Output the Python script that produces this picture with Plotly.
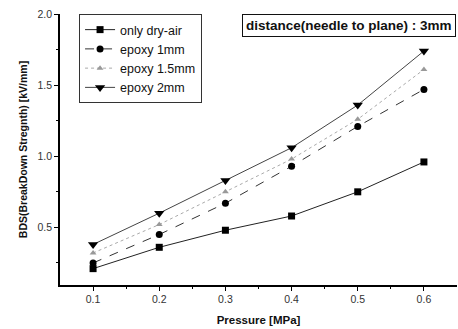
import plotly.graph_objects as go

pressure = [0.1, 0.2, 0.3, 0.4, 0.5, 0.6]
dry_air = [0.21, 0.36, 0.48, 0.58, 0.75, 0.96]
epoxy_1mm = [0.25, 0.45, 0.67, 0.93, 1.21, 1.47]
epoxy_15mm = [0.32, 0.52, 0.75, 0.98, 1.26, 1.61]
epoxy_2mm = [0.38, 0.60, 0.83, 1.06, 1.36, 1.74]

x_ticks = [0.1, 0.2, 0.3, 0.4, 0.5, 0.6]
x_tick_labels = ["0.1", "0.2", "0.3", "0.4", "0.5", "0.6"]
y_ticks = [0.5, 1.0, 1.5, 2.0]
y_tick_labels = ["0.5", "1.0", "1.5", "2.0"]

fig = go.Figure()
fig.add_trace(go.Scatter(x=pressure, y=dry_air, name="only dry-air", mode="lines+markers",
                         line=dict(color="#222", width=1, dash="solid"),
                         marker=dict(symbol="square", size=7, color="black")))
fig.add_trace(go.Scatter(x=pressure, y=epoxy_1mm, name="epoxy 1mm", mode="lines+markers",
                         line=dict(color="#333", width=1, dash="dash"),
                         marker=dict(symbol="circle", size=7, color="black")))
fig.add_trace(go.Scatter(x=pressure, y=epoxy_15mm, name="epoxy 1.5mm", mode="lines+markers",
                         line=dict(color="#aaa", width=1, dash="dot"),
                         marker=dict(symbol="triangle-up", size=6, color="#999")))
fig.add_trace(go.Scatter(x=pressure, y=epoxy_2mm, name="epoxy 2mm", mode="lines+markers",
                         line=dict(color="#444", width=1, dash="solid"),
                         marker=dict(symbol="triangle-down", size=9, color="black")))

fig.update_layout(
    width=458, height=329,
    margin=dict(l=60, r=1, t=14, b=44),
    paper_bgcolor="white", plot_bgcolor="white",
    font=dict(family="Liberation Sans, Arial, sans-serif", color="#222"),
    showlegend=True,
    legend=dict(x=0.048, y=1.0, xanchor="left", yanchor="top",
                bordercolor="#333", borderwidth=1, bgcolor="white",
                font=dict(size=12.5, color="#111"), tracegroupgap=0,
                itemwidth=30),
    xaxis=dict(range=[0.05, 0.65], tickvals=x_ticks, ticktext=x_tick_labels,
               showline=True, linecolor="black", linewidth=1.5, ticks="outside",
               ticklen=4, tickcolor="black", showgrid=False, zeroline=False, automargin=False,
               minor=dict(tickvals=[0.15, 0.25, 0.35, 0.45, 0.55], ticks="outside", ticklen=2, tickcolor="black"),
               tickfont=dict(size=10.5, color="#333"),
               title=dict(text="<b>Pressure [MPa]</b>", font=dict(size=11.5, color="#111"), standoff=12)),
    yaxis=dict(range=[0.095, 2.0], tickvals=y_ticks, ticktext=y_tick_labels,
               showline=True, linecolor="black", linewidth=1.5, ticks="outside",
               ticklen=4, tickcolor="black", showgrid=False, zeroline=False, automargin=False,
               minor=dict(tickvals=[0.25, 0.75, 1.25, 1.75], ticks="outside", ticklen=2, tickcolor="black"),
               tickfont=dict(size=10.5, color="#333"),
               title=dict(text="<b>BDS(BreakDown Stregnth) [kV/mm]</b>", font=dict(size=10.5, color="#111"), standoff=8)),
    annotations=[dict(x=0.998, y=1.0, xref="paper", yref="paper", xanchor="right", yanchor="top",
                      text="<b>distance(needle to plane) : 3mm</b>", showarrow=False,
                      font=dict(size=13.5, color="#111"), bordercolor="#111", borderwidth=1,
                      borderpad=3, bgcolor="white")],
)

fig.write_html("out.html", post_script="document.body.style.margin='0';",
               config={"displayModeBar": False})
